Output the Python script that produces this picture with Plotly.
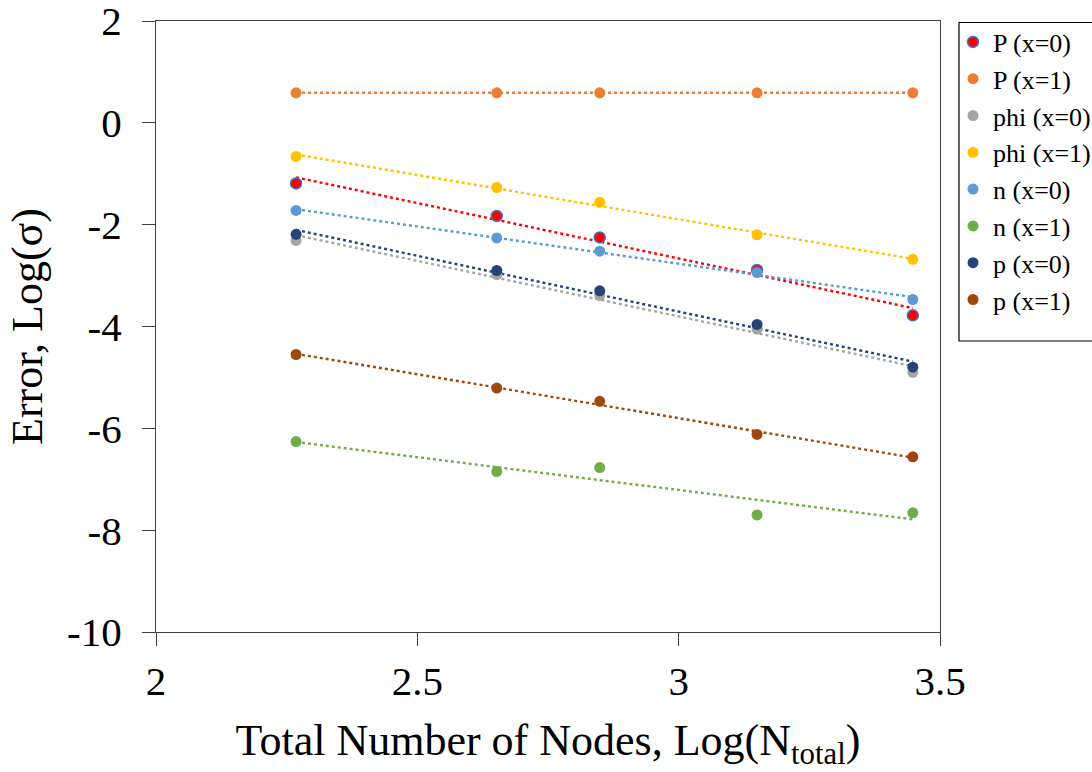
import numpy as np
import plotly.graph_objects as go

# ---- data ----
log_nodes = [2.268, 2.652, 2.849, 3.150, 3.448]

series_names = ["P (x=0)", "P (x=1)", "phi (x=0)", "phi (x=1)",
                "n (x=0)", "n (x=1)", "p (x=0)", "p (x=1)"]

P_x0 = [-1.19, -1.83, -2.25, -2.89, -3.78]
P_x1 = [0.59, 0.59, 0.59, 0.59, 0.59]
phi_x0 = [-2.31, -2.98, -3.39, -4.05, -4.90]
phi_x1 = [-0.66, -1.27, -1.56, -2.20, -2.68]
n_x0 = [-1.72, -2.26, -2.52, -2.94, -3.47]
n_x1 = [-6.26, -6.85, -6.77, -7.70, -7.66]
p_x0 = [-2.19, -2.90, -3.30, -3.96, -4.80]
p_x1 = [-4.55, -5.21, -5.47, -6.12, -6.56]

series_values = [P_x0, P_x1, phi_x0, phi_x1, n_x0, n_x1, p_x0, p_x1]

x_tick_vals = [2, 2.5, 3, 3.5]
x_tick_text = ["2", "2.5", "3", "3.5"]
y_tick_vals = [2, 0, -2, -4, -6, -8, -10]
y_tick_text = ["2", "0", "-2", "-4", "-6", "-8", "-10"]

# ---- styles ----
colors = ["#FF0000", "#ED7D31", "#A5A5A5", "#FFC000",
          "#5B9BD5", "#70AD47", "#264478", "#9E480E"]
outline = ["#4472C4", None, None, None, None, None, None, None]

FONT = "Liberation Serif, Times New Roman, serif"

W, H = 1092, 772
L, R, T, B = 156, 152, 20.5, 139.5
plot_w = W - L - R
plot_h = H - T - B

fig = go.Figure()

# linear trendlines (least-squares fit of each series)
xs = np.array(log_nodes)
for name, vals, col in zip(series_names, series_values, colors):
    k, b = np.polyfit(xs, np.array(vals), 1)
    xl = [xs.min(), xs.max()]
    yl = [k * xl[0] + b, k * xl[1] + b]
    fig.add_trace(go.Scatter(x=xl, y=yl, mode="lines",
                             line=dict(color=col, width=2.4, dash="dot"),
                             showlegend=False, hoverinfo="skip"))

# markers
for name, vals, col, oc in zip(series_names, series_values, colors, outline):
    fig.add_trace(go.Scatter(
        x=log_nodes, y=vals, mode="markers", name=name,
        marker=dict(color=col, size=11,
                    line=dict(color=oc if oc else col, width=1.5 if oc else 0))))

def px_x(p):
    return (p - L) / plot_w

def px_y(p):
    return (H - B - p) / plot_h

# legend frame
fig.add_shape(type="rect", xref="paper", yref="paper",
              x0=px_x(959), x1=px_x(1100), y0=px_y(341), y1=px_y(22),
              line=dict(color="black", width=1.2), fillcolor="rgba(0,0,0,0)",
              layer="above")

fig.update_layout(
    width=W, height=H,
    margin=dict(l=L, r=R, t=T, b=B, pad=0, autoexpand=False),
    paper_bgcolor="white", plot_bgcolor="white",
    font=dict(family=FONT, color="black"),
    showlegend=True,
    legend=dict(x=px_x(953), y=px_y(18), xanchor="left", yanchor="top",
                borderwidth=0, bgcolor="rgba(0,0,0,0)",
                font=dict(family=FONT, size=26, color="black"),
                itemwidth=30, tracegroupgap=0),
)

fig.update_xaxes(range=[2, 3.5], tickvals=x_tick_vals, ticktext=x_tick_text,
                 showgrid=False, zeroline=False, automargin=False,
                 showline=True, linecolor="#404040", linewidth=1.3, mirror=True,
                 ticks="outside", ticklen=13, tickcolor="#404040", tickwidth=1.3,
                 ticklabeloverflow="allow",
                 tickfont=dict(family=FONT, size=41, color="black"),
                 title=dict(text="Total Number of Nodes, Log(N<sub>total</sub>)",
                            font=dict(family=FONT, size=44, color="black"),
                            standoff=20))
fig.update_yaxes(range=[-10, 2], tickvals=y_tick_vals, ticktext=y_tick_text,
                 showgrid=False, zeroline=False, automargin=False,
                 showline=True, linecolor="#404040", linewidth=1.3, mirror=True,
                 ticks="outside", ticklen=13, tickcolor="#404040", tickwidth=1.3,
                 ticklabeloverflow="allow", ticklabelstandoff=12,
                 tickfont=dict(family=FONT, size=41, color="black"),
                 title=dict(text="Error, Log(σ)",
                            font=dict(family=FONT, size=44, color="black"),
                            standoff=10))

fig.write_html("out.html")
